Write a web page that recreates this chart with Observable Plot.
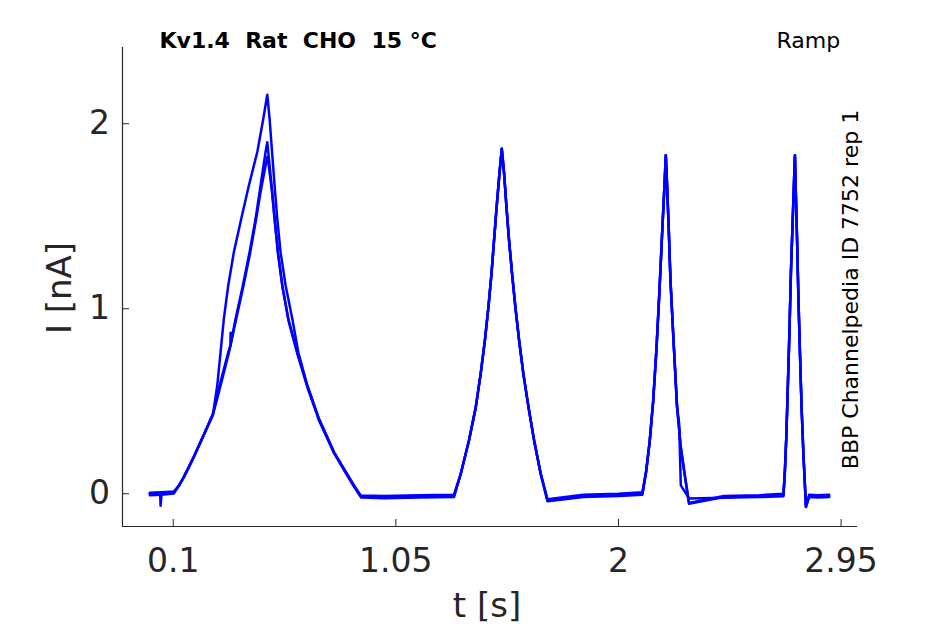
<!DOCTYPE html>
<html>
<head>
<meta charset="utf-8">
<script src="https://cdn.jsdelivr.net/npm/d3@7"></script>
<script src="https://cdn.jsdelivr.net/npm/@observablehq/plot@0.6"></script>
<style>
  html, body { margin: 0; padding: 0; background: #fff; }
</style>
</head>
<body>
<div id="chart"></div>
<script>
// ---- Texts and ticks ----
const titleText = "Kv1.4  Rat  CHO  15 °C";
const protocolText = "Ramp";
const sideText = "BBP Channelpedia ID 7752 rep 1";
const xLabel = "t [s]";
const yLabel = "I [nA]";
const xTicks = [0.1, 1.05, 2, 2.95];
const yTicks = [0, 1, 2];
const xDomain = [-0.1165, 3.02];
const yDomain = [-0.177, 2.412];

// ---- Values (t in s, I in nA) ----
// start baselines
const tA0 = [0, 0.03, 0.044, 0.046, 0.05, 0.103];
const iA0 = [0.0, 0.005, 0.0, -0.065, 0.0, 0.01];
const tB0 = [0, 0.05, 0.103];
const iB0 = [0.005, 0.008, 0.012];
const tC0 = [0, 0.05, 0.103];
const iC0 = [-0.008, -0.005, 0.002];
// common foot of the first ramp
const tFoot = [0.125, 0.145, 0.167, 0.188, 0.2166, 0.245];
const iFoot = [0.045, 0.09, 0.145, 0.20, 0.28, 0.36];
// first ramp, each rep
const tA1 = [0.269, 0.2733, 0.2879, 0.302, 0.316, 0.3348, 0.3587, 0.3903, 0.413, 0.4228, 0.4587, 0.4843, 0.5013, 0.5111, 0.5325, 0.544, 0.558, 0.5795, 0.6081, 0.6337, 0.6721, 0.7217, 0.7857, 0.8284, 0.8711, 0.90];
const iA1 = [0.43, 0.46, 0.585, 0.765, 0.946, 1.126, 1.306, 1.486, 1.612, 1.666, 1.847, 2.027, 2.157, 2.027, 1.666, 1.486, 1.306, 1.126, 0.946, 0.765, 0.585, 0.405, 0.225, 0.135, 0.045, -0.01];
const tB1 = [0.269, 0.299, 0.3348, 0.344, 0.3447, 0.3455, 0.366, 0.3972, 0.4258, 0.4514, 0.4727, 0.494, 0.5013, 0.5056, 0.5197, 0.5325, 0.5466, 0.5654, 0.591, 0.6294, 0.6721, 0.7217, 0.7857, 0.8284, 0.8711, 0.90];
const iB1 = [0.43, 0.59, 0.765, 0.80, 0.87, 0.81, 0.946, 1.126, 1.306, 1.486, 1.666, 1.847, 1.90, 1.847, 1.666, 1.486, 1.306, 1.126, 0.946, 0.765, 0.585, 0.405, 0.225, 0.135, 0.045, -0.012];
const tC1 = [0.269, 0.301, 0.337, 0.368, 0.399, 0.428, 0.453, 0.474, 0.495, 0.5013, 0.507, 0.521, 0.534, 0.548, 0.567, 0.593, 0.631, 0.674, 0.724, 0.788, 0.830, 0.873, 0.902];
const iC1 = [0.425, 0.58, 0.76, 0.94, 1.12, 1.30, 1.48, 1.64, 1.78, 1.82, 1.78, 1.64, 1.47, 1.29, 1.11, 0.93, 0.75, 0.57, 0.39, 0.215, 0.125, 0.035, -0.02];
// second ramp (common)
const tP2 = [1.327, 1.362, 1.391, 1.412, 1.430, 1.445, 1.458, 1.469, 1.480, 1.492, 1.502, 1.512, 1.522, 1.533, 1.546, 1.560, 1.576, 1.594, 1.616, 1.640, 1.668];
const iP2 = [0.108, 0.288, 0.468, 0.649, 0.829, 1.009, 1.189, 1.369, 1.549, 1.73, 1.865, 1.73, 1.549, 1.369, 1.189, 1.009, 0.829, 0.649, 0.468, 0.288, 0.108];
// third ramp (common part, then tails)
const tP3 = [2.118, 2.133, 2.148, 2.162, 2.175, 2.186, 2.196, 2.202, 2.207, 2.214, 2.222, 2.234, 2.250];
const iP3 = [0.12, 0.28, 0.50, 0.78, 1.10, 1.40, 1.66, 1.83, 1.68, 1.45, 1.15, 0.85, 0.47];
const tP3tail = [2.266, 2.283];
const iP3tail = [0.25, 0.10];
const tP3tailC = [2.259, 2.266];
const iP3tailC = [0.378, 0.045];
// fourth ramp (common)
const tP4 = [2.710, 2.716, 2.722, 2.729, 2.736, 2.744, 2.750, 2.753, 2.757, 2.762, 2.768, 2.774, 2.781, 2.789];
const iP4 = [0.12, 0.30, 0.55, 0.85, 1.2, 1.5, 1.72, 1.83, 1.62, 1.38, 1.05, 0.78, 0.48, 0.22];
// baselines between ramps, each rep
const tBase1 = [1.0, 1.15, 1.298];
const iBase1A = [-0.012, -0.008, -0.005];
const iBase1B = [-0.018, -0.014, -0.012];
const iBase1C = [-0.024, -0.02, -0.018];
const tBase2 = [1.697, 1.85, 2.0, 2.102];
const iBase2A = [-0.03, -0.005, 0.0, 0.008];
const iBase2B = [-0.036, -0.012, -0.006, 0.0];
const iBase2C = [-0.04, -0.018, -0.012, -0.006];
const tBase3 = [2.301, 2.45, 2.6, 2.704];
const iBase3A = [-0.05, -0.012, -0.008, 0.0];
const iBase3B = [-0.054, -0.018, -0.014, -0.008];
const iBase3C = [-0.025, -0.022, -0.018, -0.014];
const tBase4 = [2.800, 2.814, 2.85, 2.899];
const iBase4A = [-0.072, -0.005, -0.008, -0.005];
const iBase4B = [-0.07, -0.012, -0.015, -0.012];
const iBase4C = [-0.065, -0.018, -0.02, -0.018];

function seg(rep, ts, is) { return ts.map((t, k) => ({rep, t, i: is[k]})); }
const rows = [
  ...seg("A", tA0, iA0), ...seg("A", tFoot, iFoot), ...seg("A", tA1, iA1),
  ...seg("A", tBase1, iBase1A), ...seg("A", tP2, iP2), ...seg("A", tBase2, iBase2A),
  ...seg("A", tP3, iP3), ...seg("A", tP3tail, iP3tail), ...seg("A", tBase3, iBase3A),
  ...seg("A", tP4, iP4), ...seg("A", tBase4, iBase4A),
  ...seg("B", tB0, iB0), ...seg("B", tFoot, iFoot), ...seg("B", tB1, iB1),
  ...seg("B", tBase1, iBase1B), ...seg("B", tP2, iP2), ...seg("B", tBase2, iBase2B),
  ...seg("B", tP3, iP3), ...seg("B", tP3tail, iP3tail), ...seg("B", tBase3, iBase3B),
  ...seg("B", tP4, iP4), ...seg("B", tBase4, iBase4B),
  ...seg("C", tC0, iC0), ...seg("C", tFoot, iFoot), ...seg("C", tC1, iC1),
  ...seg("C", tBase1, iBase1C), ...seg("C", tP2, iP2), ...seg("C", tBase2, iBase2C),
  ...seg("C", tP3, iP3), ...seg("C", tP3tailC, iP3tailC), ...seg("C", tBase3, iBase3C),
  ...seg("C", tP4, iP4), ...seg("C", tBase4, iBase4C)
];

// ---- Layout ----
const W = 945, H = 624;
const mTop = 47, mRight = 88, mBottom = 98, mLeft = 122;
const frameW = W - mLeft - mRight, frameH = H - mTop - mBottom;
const ink = "#262626";

const chart = Plot.plot({
  width: W, height: H,
  marginTop: mTop, marginRight: mRight, marginBottom: mBottom, marginLeft: mLeft,
  style: {fontFamily: "DejaVu Sans", background: "#fff", color: ink, overflow: "visible"},
  x: {domain: xDomain},
  y: {domain: yDomain},
  marks: [
    Plot.line(rows, {x: "t", y: "i", z: "rep", stroke: "#0000ff", strokeWidth: 2.5, strokeLinejoin: "round"}),
    Plot.ruleX([xDomain[0]], {stroke: ink, strokeWidth: 1.2}),
    Plot.ruleY([yDomain[0]], {stroke: ink, strokeWidth: 1.2}),
    Plot.ruleX(xTicks, {x: d => d, insetTop: frameH - 7, stroke: ink}),
    Plot.ruleY(yTicks, {y: d => d, insetRight: frameW - 7, stroke: ink}),
    Plot.axisX(xTicks, {tickSize: 0, tickPadding: 22, fontSize: 33, tickFormat: d => String(d), label: null, fill: ink}),
    Plot.axisY(yTicks, {tickSize: 0, tickPadding: 12.5, fontSize: 33, tickFormat: d => String(d), label: null, fill: ink}),
    Plot.text([xLabel], {frameAnchor: "bottom", textAnchor: "middle", lineAnchor: "bottom", dy: 90.7, dx: -3, fontSize: 34, fill: ink}),
    Plot.text([yLabel], {frameAnchor: "left", textAnchor: "middle", lineAnchor: "bottom", rotate: -90, dx: -51.3, dy: 1, fontSize: 34, fill: ink}),
    Plot.text([titleText], {frameAnchor: "top-left", textAnchor: "start", lineAnchor: "bottom", dx: 37, dy: 0.3, fontSize: 22, fontWeight: "bold", fill: "#000"}),
    Plot.text([protocolText], {frameAnchor: "top-right", textAnchor: "end", lineAnchor: "bottom", dx: -17.4, dy: 0.3, fontSize: 22, fill: "#000"}),
    Plot.text([sideText], {frameAnchor: "right", textAnchor: "middle", lineAnchor: "bottom", rotate: -90, dx: 0.6, dy: 2.5, fontSize: 22, fill: "#000"})
  ]
});
document.getElementById("chart").appendChild(chart);
</script>
</body>
</html>
